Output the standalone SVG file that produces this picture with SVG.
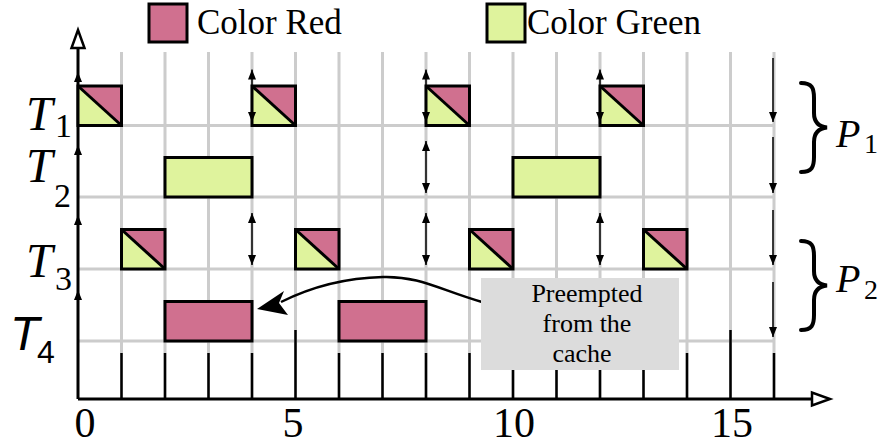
<svg xmlns="http://www.w3.org/2000/svg" xmlns:xlink="http://www.w3.org/1999/xlink" width="881" height="446" viewBox="0 0 881 446">
<style>
.grid{stroke:#cccccc;stroke-width:3;fill:none}
.tick{stroke:#000;stroke-width:2.5}
.axis{stroke:#000;stroke-width:3;fill:none}
.arr{stroke:#000;stroke-width:1.5;fill:none}
.box{stroke:#000;stroke-width:3}
.red{fill:#d0708f}
.green{fill:#dff39d}
.serif{font-family:"Liberation Serif","Times New Roman",serif;fill:#000}
.sans{font-family:"Liberation Sans",Arial,sans-serif;fill:#000}
.it{font-style:italic}
</style>
<defs>
<marker id="ah" viewBox="0 0 10 8" refX="10" refY="4" markerWidth="10" markerHeight="8" markerUnits="userSpaceOnUse" orient="auto-start-reverse">
<path d="M0,0 L10,4 L0,8 z" fill="#000"/>
</marker>
<g id="split">
<polygon points="0,0 0,39.5 43.5,39.5" class="green"/>
<polygon points="0,0 43.5,0 43.5,39.5" class="red"/>
<line x1="0" y1="0" x2="43.5" y2="39.5" stroke="#000" stroke-width="3"/>
<rect x="0" y="0" width="43.5" height="39.5" fill="none" class="box"/>
</g>
</defs>

<g id="grid">
<path class="grid" d="M121.5,52V399M165,52V399M208.5,52V399M252,52V399M295.5,52V399M339,52V399M382.5,52V399M426,52V399M469.5,52V399M513,52V399M556.5,52V399M600,52V399M643.5,52V399M687,52V399M730.5,52V399M774,52V399"/>
<path class="grid" d="M78,125.5H774M78,197H774M78,269H774M78,341H774"/>
</g>

<g id="ticks">
<path class="tick" d="M121.5,353V399M165,353V399M208.5,353V399M252,353V399M295.5,330V399M339,353V399M382.5,353V399M426,353V399M469.5,353V399M513,330V399M556.5,353V399M600,353V399M643.5,353V399M687,353V399M730.5,330V399M774,353V399"/>
</g>

<g id="axes">
<line class="axis" x1="78" y1="399" x2="78" y2="48"/>
<polygon points="71.5,48 84.5,48 78,30" fill="#fff" stroke="#000" stroke-width="2.5"/>
<line class="axis" x1="78" y1="399" x2="812" y2="399"/>
<polygon points="812,392.5 812,405.5 830,399" fill="#fff" stroke="#000" stroke-width="2.5"/>
</g>

<g id="legend">
<rect x="149" y="4" width="38" height="38" class="box red"/>
<text x="197" y="34" class="serif" font-size="35">Color Red</text>
<rect x="487" y="4" width="38" height="38" class="box green"/>
<text x="527" y="34" class="serif" font-size="35">Color Green</text>
</g>

<g id="labels">
<text x="26" y="130" class="serif it" font-size="48">T</text><text x="55" y="137" class="serif" font-size="34">1</text>
<text x="26" y="182" class="serif it" font-size="48">T</text><text x="54" y="207" class="serif" font-size="34">2</text>
<text x="26" y="277" class="serif it" font-size="48">T</text><text x="55" y="290" class="serif" font-size="34">3</text>
<text x="10" y="350" class="sans it" font-size="48">T</text><text x="37" y="363" class="sans" font-size="32">4</text>
<text x="85" y="437" class="serif" font-size="42" text-anchor="middle">0</text>
<text x="293" y="437" class="serif" font-size="42" text-anchor="middle">5</text>
<text x="514" y="437" class="serif" font-size="42" text-anchor="middle">10</text>
<text x="732" y="437" class="serif" font-size="42" text-anchor="middle">15</text>
</g>

<g id="T1">
<use xlink:href="#split" x="78" y="86"/>
<use xlink:href="#split" x="252" y="86"/>
<use xlink:href="#split" x="426" y="86"/>
<use xlink:href="#split" x="600" y="86"/>
</g>
<g id="T2">
<rect x="165" y="157.5" width="87" height="39.5" class="box green"/>
<rect x="513" y="157.5" width="87" height="39.5" class="box green"/>
</g>
<g id="T3">
<use xlink:href="#split" x="121.5" y="229.5"/>
<use xlink:href="#split" x="295.5" y="229.5"/>
<use xlink:href="#split" x="469.5" y="229.5"/>
<use xlink:href="#split" x="643.5" y="229.5"/>
</g>
<g id="T4">
<rect x="165" y="301.5" width="87" height="39.5" class="box red"/>
<rect x="339" y="301.5" width="87" height="39.5" class="box red"/>
</g>

<g id="connectors">
<line class="arr" x1="78" y1="95" x2="78" y2="72" marker-end="url(#ah)"/>
<line class="arr" x1="78" y1="167" x2="78" y2="145" marker-end="url(#ah)"/>
<line class="arr" x1="78" y1="239" x2="78" y2="215" marker-end="url(#ah)"/>
<line class="arr" x1="78" y1="311" x2="78" y2="290" marker-end="url(#ah)"/>
<line class="arr" x1="252" y1="69.5" x2="252" y2="122" marker-start="url(#ah)" marker-end="url(#ah)"/>
<line class="arr" x1="426" y1="69.5" x2="426" y2="122" marker-start="url(#ah)" marker-end="url(#ah)"/>
<line class="arr" x1="600" y1="69.5" x2="600" y2="122" marker-start="url(#ah)" marker-end="url(#ah)"/>
<line class="arr" x1="426" y1="141" x2="426" y2="193" marker-start="url(#ah)" marker-end="url(#ah)"/>
<line class="arr" x1="252" y1="213" x2="252" y2="265" marker-start="url(#ah)" marker-end="url(#ah)"/>
<line class="arr" x1="426" y1="213" x2="426" y2="265" marker-start="url(#ah)" marker-end="url(#ah)"/>
<line class="arr" x1="600" y1="213" x2="600" y2="265" marker-start="url(#ah)" marker-end="url(#ah)"/>
<line class="arr" x1="773" y1="58" x2="773" y2="122" marker-end="url(#ah)"/>
<line class="arr" x1="773" y1="137" x2="773" y2="193" marker-end="url(#ah)"/>
<line class="arr" x1="773" y1="210" x2="773" y2="265" marker-end="url(#ah)"/>
<line class="arr" x1="773" y1="282" x2="773" y2="337" marker-end="url(#ah)"/>
<path d="M482,302 C440,290 420,276 383,277 C340,278 305,290 281,302" fill="none" stroke="#000" stroke-width="2.5"/>
<polygon points="257,309 284,291 279,303 288,315" fill="#000"/>
</g>

<g id="callout">
<rect x="481" y="278" width="198" height="92" fill="#dcdcdc"/>
<text x="587" y="302" class="serif" font-size="26" text-anchor="middle">Preempted</text>
<text x="587" y="332" class="serif" font-size="26" text-anchor="middle">from the</text>
<text x="582" y="362" class="serif" font-size="26" text-anchor="middle">cache</text>
</g>

<g id="P1">
<path d="M801,83 C812,83 814,88 814,98 L814,113 C814,122 818,126.5 827,127.5 C818,128.5 814,133 814,142 L814,157 C814,167 812,172 801,172" fill="none" stroke="#000" stroke-width="4" stroke-linecap="round"/>
<text x="836" y="147" class="serif it" font-size="40">P</text><text x="864" y="153" class="serif" font-size="28">1</text>
</g>
<g id="P2">
<path d="M801,241 C812,241 814,246 814,256 L814,271 C814,280 818,284.5 827,285.5 C818,286.5 814,291 814,300 L814,315 C814,325 812,330 801,330" fill="none" stroke="#000" stroke-width="4" stroke-linecap="round"/>
<text x="836" y="292" class="serif it" font-size="40">P</text><text x="864" y="299" class="serif" font-size="28">2</text>
</g>
</svg>
